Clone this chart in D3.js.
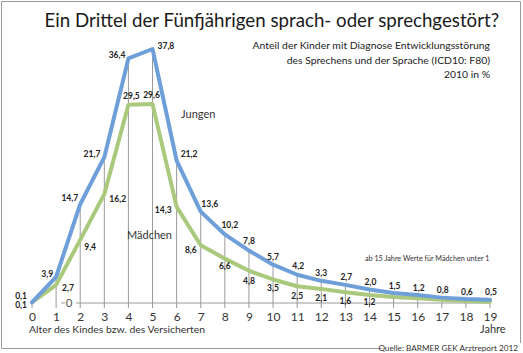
<!DOCTYPE html>
<html>
<head>
<meta charset="utf-8">
<script src="https://cdn.jsdelivr.net/npm/d3@7"></script>
<style>
  body { margin: 0; background: #fff; }
  text { font-family: Lato, "Open Sans", sans-serif; }
</style>
</head>
<body>
<div id="container"></div>
<script>
/* CONSTANTS AND GLOBALS */
const width = 523,
  height = 353,
  colors = { jungen: '#6e9fd9', maedchen: '#abc97c', grid: '#9a9a9a', text: '#222' }

/* DATA */
const ages = d3.range(0, 20)
const jungen = [0.1, 3.9, 14.7, 21.7, 36.4, 37.8, 21.2, 13.6, 10.2, 7.8, 5.7, 4.2, 3.3, 2.7, 2.0, 1.5, 1.2, 0.8, 0.6, 0.5]
// values from 15 years on are not labelled (under 1)
const maedchen = [0.1, 2.7, 9.4, 16.2, 29.5, 29.6, 14.3, 8.6, 6.6, 4.8, 3.5, 2.5, 2.1, 1.6, 1.2, 0.9, 0.7, 0.5, 0.3, 0.2]
const maedchenLabelled = 15

// label placement: [anchor, dx, dy]
const jungenPos = [
  ['end', -5, -6], ['end', -3, -3], ['end', -2, -6], ['end', -4, -3], ['end', -3, -3],
  ['start', 5, -3], ['start', 4, -7], ['middle', 9, -8], ['middle', 5, -9], ['middle', 0, -10],
  ['middle', 0, -8], ['middle', 1, -9], ['middle', 0, -8], ['middle', 1, -8], ['middle', 1, -8],
  ['middle', 1, -7], ['middle', 1, -7], ['middle', 1, -8], ['middle', 1, -7], ['middle', 1, -8]
]
const maedchenPos = [
  ['end', -5, 3], ['start', 6, 3], ['start', 4, 7], ['start', 5, 5], ['middle', 3, -9],
  ['middle', -1, -9], ['end', -5, 3], ['end', -4, 5], ['middle', 0, 7], ['middle', 0, 10],
  ['middle', 0, 9], ['middle', 0, 10], ['middle', 0, 9], ['middle', 0, 9], ['middle', 0, 7]
]

const fmt = v => d3.format('.1f')(v).replace('.', ',')

/* SCALES */
const xScale = d3.scaleLinear().domain([0, 19]).range([32, 490])
const yScale = d3.scaleLinear().domain([0, 37.8]).range([303, 49])

const svg = d3.select('#container')
  .append('svg')
  .attr('width', width)
  .attr('height', height)

// frame
svg.append('path')
  .attr('d', 'M382,348.5 H1.5 V1.5 H520.5 V343')
  .attr('fill', 'none')
  .attr('stroke', '#9a9a9a')
  .attr('stroke-width', 1)

// title
svg.append('text')
  .attr('x', 499).attr('y', 27)
  .attr('text-anchor', 'end')
  .attr('font-size', 18.7)
  .attr('fill', '#1a1a1a')
  .text('Ein Drittel der Fünfjährigen sprach- oder sprechgestört?')

const sub = ['Anteil der Kinder mit Diagnose Entwicklungsstörung',
  'des Sprechens und der Sprache (ICD10: F80)', '2010 in %']
svg.selectAll('.sub')
  .data(sub)
  .join('text')
  .attr('class', 'sub')
  .attr('x', 490)
  .attr('y', (d, i) => 49 + i * 14.5)
  .attr('text-anchor', 'end')
  .attr('font-size', 10.4)
  .attr('fill', '#222')
  .text(d => d)

// drop lines and ticks
svg.selectAll('.drop')
  .data(ages)
  .join('line')
  .attr('class', 'drop')
  .attr('x1', d => xScale(d)).attr('x2', d => xScale(d))
  .attr('y1', yScale(0) + 5)
  .attr('y2', d => yScale(jungen[d]))
  .attr('stroke', colors.grid)
  .attr('stroke-width', 1)

// baseline with "0"
svg.append('line')
  .attr('x1', 76).attr('x2', xScale(19))
  .attr('y1', yScale(0)).attr('y2', yScale(0))
  .attr('stroke', colors.grid)
svg.append('line')
  .attr('x1', 61).attr('x2', 65)
  .attr('y1', yScale(0)).attr('y2', yScale(0))
  .attr('stroke', colors.grid)
svg.append('text')
  .attr('x', 69).attr('y', yScale(0) + 4)
  .attr('text-anchor', 'middle')
  .attr('font-size', 11.5)
  .attr('fill', '#555')
  .text('0')

// x axis
const xAxis = d3.axisBottom(xScale).tickValues(ages).tickSize(0).tickPadding(9)
svg.append('g')
  .attr('transform', `translate(0,${yScale(0)})`)
  .call(xAxis)
  .call(g => g.select('.domain').remove())
  .call(g => g.selectAll('text')
    .attr('font-family', 'Lato, sans-serif')
    .attr('font-size', 12)
    .attr('fill', '#333'))

// lines
const line = d3.line()
  .x((d, i) => xScale(i))
  .y(d => yScale(d))

svg.append('path')
  .datum(maedchen)
  .attr('d', line)
  .attr('fill', 'none')
  .attr('stroke', colors.maedchen)
  .attr('stroke-width', 4)
  .attr('stroke-linejoin', 'round')
  .attr('stroke-linecap', 'round')

svg.append('path')
  .datum(jungen)
  .attr('d', line)
  .attr('fill', 'none')
  .attr('stroke', colors.jungen)
  .attr('stroke-width', 4)
  .attr('stroke-linejoin', 'round')
  .attr('stroke-linecap', 'round')

// value labels
svg.selectAll('.lab-j')
  .data(jungen)
  .join('text')
  .attr('class', 'lab-j')
  .attr('x', (d, i) => xScale(i) + jungenPos[i][1])
  .attr('y', (d, i) => yScale(d) + jungenPos[i][2] + 3)
  .attr('text-anchor', (d, i) => jungenPos[i][0])
  .attr('font-size', 8.5)
  .attr('font-weight', 700)
  .attr('fill', colors.text)
  .text(fmt)

svg.selectAll('.lab-m')
  .data(maedchen.slice(0, maedchenLabelled))
  .join('text')
  .attr('class', 'lab-m')
  .attr('x', (d, i) => xScale(i) + maedchenPos[i][1])
  .attr('y', (d, i) => yScale(d) + maedchenPos[i][2] + 3)
  .attr('text-anchor', (d, i) => maedchenPos[i][0])
  .attr('font-size', 8.5)
  .attr('font-weight', 700)
  .attr('fill', colors.text)
  .text(fmt)

// series names and notes
svg.append('text')
  .attr('x', 181).attr('y', 118)
  .attr('font-size', 11).attr('fill', '#333')
  .text('Jungen')
svg.append('text')
  .attr('x', 127).attr('y', 239)
  .attr('font-size', 11).attr('fill', '#333')
  .text('Mädchen')
svg.append('text')
  .attr('x', 365).attr('y', 261)
  .attr('font-size', 7.2).attr('fill', '#333')
  .text('ab 15 Jahre Werte für Mädchen unter 1')
svg.append('text')
  .attr('x', 29).attr('y', 333)
  .attr('font-size', 10.4).attr('fill', '#333')
  .text('Alter des Kindes bzw. des Versicherten')
svg.append('text')
  .attr('x', 480).attr('y', 333)
  .attr('font-size', 11).attr('fill', '#333')
  .text('Jahre')
svg.append('text')
  .attr('x', 518).attr('y', 351)
  .attr('text-anchor', 'end')
  .attr('font-size', 8.2).attr('fill', '#333')
  .text('Quelle: BARMER GEK Arztreport 2012')
</script>
</body>
</html>
